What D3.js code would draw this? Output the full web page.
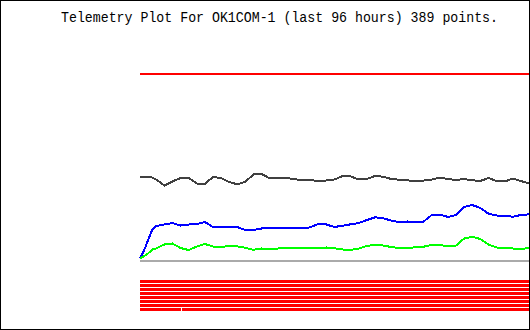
<!DOCTYPE html>
<html>
<head>
<meta charset="utf-8">
<title>Telemetry Plot For OK1COM-1</title>
<script src="https://cdn.jsdelivr.net/npm/d3@7"></script>
<style>
  html, body { margin: 0; padding: 0; background: #fff; }
  svg { display: block; }
  .title { font-family: "Liberation Mono", "DejaVu Sans Mono", monospace; font-size: 14px; fill: #000; }
  .trace { fill: none; stroke-width: 2; stroke-linejoin: miter; shape-rendering: crispEdges; }
</style>
</head>
<body>
<svg id="chart" width="530" height="330"></svg>
<script>
var titleText = 'Telemetry Plot For OK1COM-1 (last 96 hours) 389 points.';

// sample times, hours since start of the 96 hour window
var hours = [0, 1, 2, 3, 4, 6, 8, 10, 12, 14, 16, 18, 20, 22, 24, 26, 28, 30, 32, 34,
  36, 38, 40, 42, 44, 46, 48, 50, 52, 54, 56, 58, 60, 62, 64, 66, 68, 70, 72, 74,
  76, 78, 80, 82, 84, 86, 88, 90, 92, 94, 96];

// analog channels (plot units above the zero line)
var chanTop = [186, 186, 186, 186, 186, 186, 186, 186, 186, 186, 186, 186, 186, 186, 186, 186, 186, 186, 186, 186,
  186, 186, 186, 186, 186, 186, 186, 186, 186, 186, 186, 186, 186, 186, 186, 186, 186, 186, 186, 186,
  186, 186, 186, 186, 186, 186, 186, 186, 186, 186, 186];
var chanGray = [82.5, 83, 83.5, 82.5, 80.5, 74.5, 78.5, 82, 82.3, 76.5, 76, 83, 82, 78, 75.7, 78.3, 85.5, 86, 81.7, 82.3,
  82, 81, 79.7, 80, 79, 79.5, 80.5, 84, 83.5, 80.5, 81, 84, 83.3, 81, 80.3, 79.7, 78.5, 79.5, 80.5, 82.3,
  81, 80, 81, 79.7, 79, 82, 79, 78.5, 81.5, 79, 76.5];
var chanBlue = [1.5, 9.5, 20, 30, 34, 35.5, 37, 34.5, 35.5, 36, 38, 33, 32.5, 33.5, 33, 30, 30, 31.5, 31.7, 32,
  32, 32, 31.5, 32.7, 36, 35.5, 33, 34.3, 35.7, 37, 40, 42.7, 41.7, 39.5, 37.7, 38.5, 37.5, 38.5, 45, 45.5,
  43, 45, 53, 55, 52, 46.3, 44.5, 44, 43.3, 45, 45.7];
var chanGreen = [1.5, 4, 6.5, 10.5, 11.5, 15.5, 16.5, 12, 10, 13.5, 16, 13.5, 12.7, 14.3, 13.7, 12.2, 10.2, 11.5, 11, 11.5,
  12, 11.8, 11.7, 11.7, 11.7, 12.5, 11.7, 10.5, 10, 11.5, 14.2, 15, 14.5, 13, 11.8, 12, 12.7, 13.3, 15, 15,
  13.5, 14.5, 21.5, 23.2, 21, 15.5, 12.5, 11.7, 11.5, 10.5, 12.5];

// digital channels: spans (hours) where each bit is on
var bitChannels = [0, 1, 2, 3, 4, 5, 6, 7];
var bitSpans = [
  [[0, 96]], [[0, 96]], [[0, 96]], [[0, 96]],
  [[0, 96]], [[0, 96]], [[0, 96]], [[0, 10.05], [10.3, 96]]
];

(function () {
  'use strict';

  var svg = d3.select('#chart'),
      width = +svg.attr('width'),
      height = +svg.attr('height');

  var series = [
    {values: chanTop, color: '#ff0000'},
    {values: chanGray, color: '#404040'},
    {values: chanBlue, color: '#0000ff'},
    {values: chanGreen, color: '#00ff00'}
  ];

  var x = d3.scaleLinear()
      .domain([0, 96])
      .range([140, 529]);

  var y = d3.scaleLinear()
      .domain([0, 200])
      .range([260, 60]);

  var bits = d3.scaleBand()
      .domain(bitChannels)
      .range([280, 311])
      .paddingInner(0.25)
      .paddingOuter(0);

  // frame round the whole picture
  svg.append('rect')
      .attr('x', 0.5)
      .attr('y', 0.5)
      .attr('width', width - 1)
      .attr('height', height - 1)
      .attr('fill', '#fff')
      .attr('stroke', '#000');

  svg.append('text')
      .attr('class', 'title')
      .attr('x', 61)
      .attr('y', 21.5)
      .attr('textLength', 437)
      .attr('lengthAdjust', 'spacingAndGlyphs')
      .text(titleText);

  // zero line
  svg.append('line')
      .attr('x1', x(0))
      .attr('x2', x(96))
      .attr('y1', y(0) + 1)
      .attr('y2', y(0) + 1)
      .attr('stroke', '#aaaaaa')
      .attr('stroke-width', 2);

  var line = d3.line()
      .x(function (d) { return x(d[0]); })
      .y(function (d) { return y(d[1]); });

  svg.selectAll('.trace')
      .data(series)
    .enter().append('path')
      .attr('class', 'trace')
      .attr('stroke', function (d) { return d.color; })
      .attr('d', function (d) { return line(d3.zip(hours, d.values)); });

  // digital bits as stacked bars
  var rows = svg.selectAll('.bit')
      .data(bitChannels)
    .enter().append('g')
      .attr('class', 'bit')
      .attr('transform', function (d) { return 'translate(0,' + bits(d) + ')'; });

  rows.selectAll('rect')
      .data(function (d) { return bitSpans[d]; })
    .enter().append('rect')
      .attr('x', function (s) { return x(s[0]); })
      .attr('width', function (s) { return x(s[1]) - x(s[0]); })
      .attr('y', 0)
      .attr('height', bits.bandwidth())
      .attr('fill', '#ff0000')
      .attr('shape-rendering', 'crispEdges');
})();
</script>
</body>
</html>
